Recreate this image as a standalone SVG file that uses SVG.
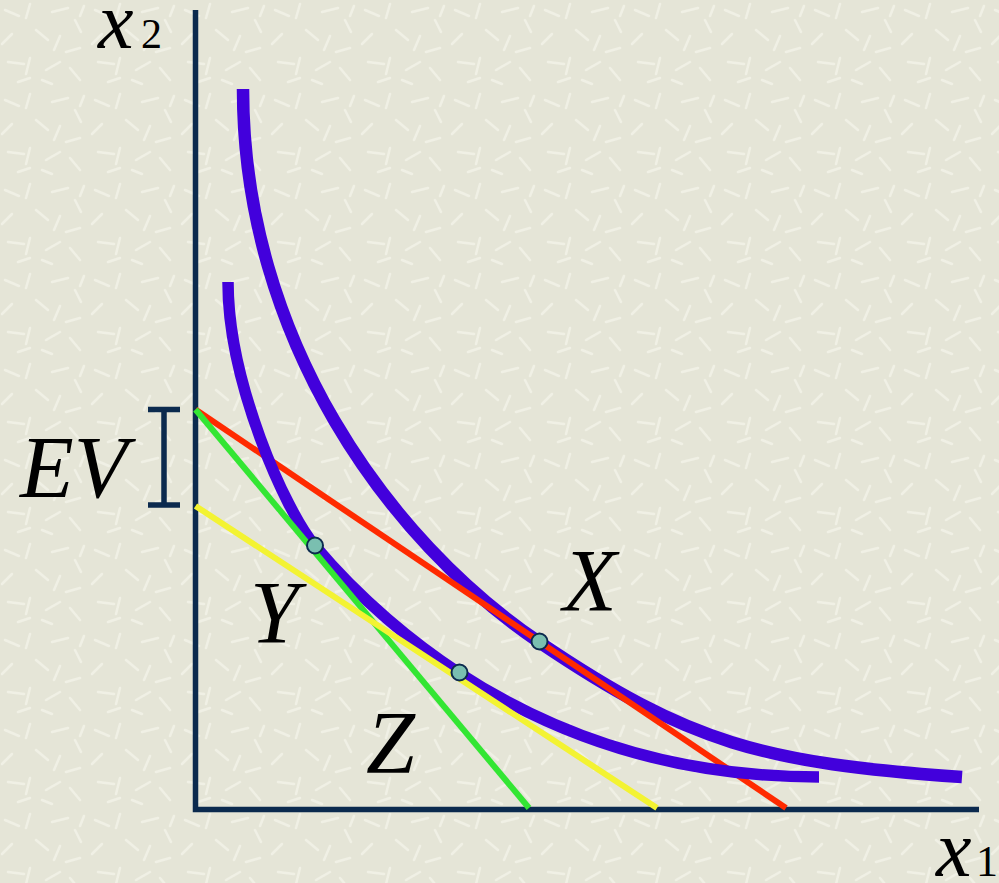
<svg xmlns="http://www.w3.org/2000/svg" width="999" height="883" viewBox="0 0 999 883">
<style>
.axis{stroke:#0b2a4e;stroke-width:5.5;fill:none;stroke-linecap:butt}
.curve{stroke:#4200dc;fill:none;stroke-linecap:butt}
.line{stroke-width:6;fill:none;stroke-linecap:butt}
.lbl{font-family:"Liberation Serif","Times New Roman",serif;font-style:italic;fill:#000}
.sub{font-family:"Liberation Serif","Times New Roman",serif;fill:#000}
.pt{fill:#7abfb0;stroke:#0b2a4e;stroke-width:2}
.tx{stroke:#f4f4ea;stroke-width:2.5;stroke-linecap:round;opacity:0.75}
</style>
<defs>
<pattern id="tex" width="90" height="90" patternUnits="userSpaceOnUse">
<rect width="90" height="90" fill="#e5e5d7"/>
<path class="tx" d="M5,10 l14,6 M30,4 l-4,14 M52,12 l16,-4 M75,20 l6,12 M12,34 l-10,10 M36,30 l12,10 M60,36 l-6,14 M80,48 l-14,4 M8,62 l16,2 M30,58 l-4,16 M46,70 l14,-8 M70,68 l10,12 M18,82 l12,-4 M52,84 l-10,-4 M84,6 l-4,10"/>
</pattern>
</defs>
<rect x="0" y="0" width="999" height="883" fill="url(#tex)"/>
<g id="axes">
<path class="axis" d="M195.5,10 V809.5 H979"/>
<path class="axis" d="M148,409.5 H180 M164,409.5 V505 M148,505 H180"/>
</g>
<g id="connectors">
<path id="outer-curve" class="curve" stroke-width="12.5" d="M243,89 C243,339 389,540.75 539,642 C689,743.25 762,763 962,777"/>
<line id="red" class="line" stroke="#ff2a00" x1="195.5" y1="409.5" x2="786" y2="808"/>
<path id="inner-curve" class="curve" stroke-width="11.5" d="M228,282 C228,382 285,510.3 315,546 C360,599.6 414,643.6 459,673 C569,744.9 689,777 819,777"/>
<line id="green" class="line" stroke="#33e633" x1="195.5" y1="409.5" x2="529" y2="808"/>
<line id="yellow" class="line" stroke="#f3f332" x1="195.5" y1="506" x2="657" y2="808"/>
</g>
<g id="point-Y"><circle class="pt" cx="315" cy="545.5" r="8"/></g>
<g id="point-Z"><circle class="pt" cx="459.5" cy="672.5" r="8"/></g>
<g id="point-X"><circle class="pt" cx="539.5" cy="641.5" r="8"/></g>
<g id="label-x2"><text class="lbl" x="98" y="48" font-size="80">x</text><text class="sub" x="141" y="48" font-size="42">2</text></g>
<g id="label-x1"><text class="lbl" x="936" y="876" font-size="80">x</text><text class="sub" x="976" y="876" font-size="44">1</text></g>
<g id="label-EV"><text class="lbl" x="20" y="497" font-size="88">EV</text></g>
<g id="label-X"><text class="lbl" x="563" y="610" font-size="88">X</text></g>
<g id="label-Y"><text class="lbl" x="250" y="642" font-size="88">Y</text></g>
<g id="label-Z"><text class="lbl" x="366" y="772" font-size="88">Z</text></g>
</svg>
